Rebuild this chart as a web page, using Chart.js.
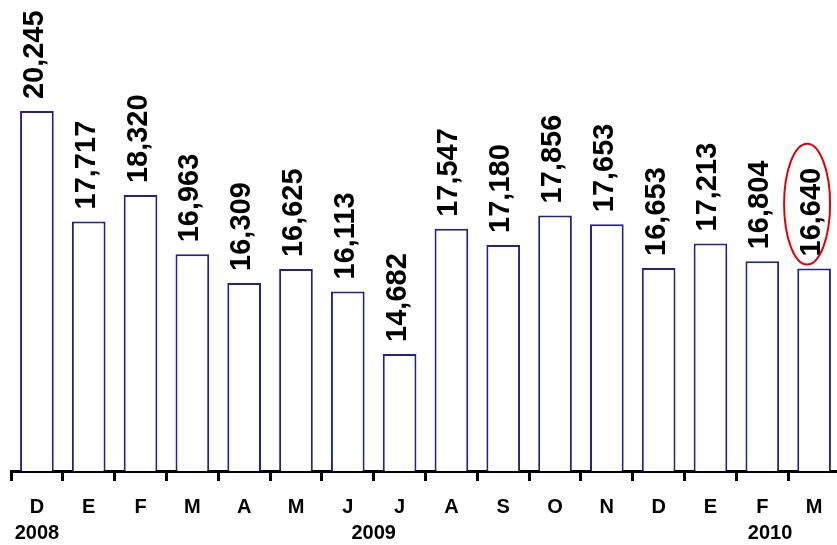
<!DOCTYPE html>
<html>
<head>
<meta charset="utf-8">
<script src="https://cdn.jsdelivr.net/npm/chart.js@4"></script>
<style>
  html, body { margin: 0; padding: 0; background: #fff; overflow: hidden; }
  #wrap { position: absolute; left: 0; top: 0; width: 842px; height: 545px; }
</style>
</head>
<body>
<div id="wrap"><canvas id="visits-chart"></canvas></div>
<script>
// monthly values, Dec 2008 .. Mar 2010
var months = ['D', 'E', 'F', 'M', 'A', 'M', 'J', 'J', 'A', 'S', 'O', 'N', 'D', 'E', 'F', 'M'];
var values = [20245, 17717, 18320, 16963, 16309, 16625, 16113, 14682, 17547, 17180, 17856, 17653, 16653, 17213, 16804, 16640];
var years = ['2008', '2009', '2010'];
var yearAt = [0, 6.5, 14.15];   // category index under which each year sits
var highlightIndex = 15;        // circled value

var navy = '#22228c';

var valueLabels = {
  id: 'valueLabels',
  afterDraw: function(chart) {
    var ctx = chart.ctx;
    var meta = chart.getDatasetMeta(0);
    ctx.save();
    ctx.font = 'bold 29px "Liberation Sans", Arial, sans-serif';
    ctx.fillStyle = '#000';
    ctx.textAlign = 'left';
    ctx.textBaseline = 'alphabetic';
    meta.data.forEach(function(bar, i) {
      var txt = values[i].toLocaleString('en-US');
      var w = ctx.measureText(txt).width;
      ctx.save();
      ctx.translate(bar.x + 6, bar.y - 12);
      ctx.rotate(-Math.PI / 2);
      ctx.fillText(txt, 0, 0);
      ctx.restore();
      if (i === highlightIndex) {
        ctx.beginPath();
        ctx.strokeStyle = '#e00000';
        ctx.lineWidth = 2;
        ctx.ellipse(bar.x - 7, bar.y - 12 - w / 2 - 8, 23, w / 2 + 16, 0, 0, Math.PI * 2);
        ctx.stroke();
      }
    });
    // year row
    var xs = chart.scales.x;
    ctx.font = 'bold 20px "Liberation Sans", Arial, sans-serif';
    ctx.textAlign = 'center';
    ctx.textBaseline = 'middle';
    years.forEach(function(y, i) {
      ctx.fillText(y, xs.getPixelForValue(yearAt[i]), 533);
    });
    ctx.restore();
  }
};

var ctx = document.getElementById('visits-chart').getContext('2d');
var chart = new Chart(ctx, {
  type: 'bar',
  data: {
    labels: months,
    datasets: [
      {
        data: values,
        backgroundColor: '#ffffff',
        borderColor: navy,
        borderWidth: 2,
        barPercentage: 0.65,
        categoryPercentage: 1
      }
    ]
  },
  options: {
    responsive: true,
    maintainAspectRatio: false,
    animation: { duration: 0 },
    layout: { padding: { left: 11, right: 2, top: 0, bottom: 0 } },
    scales: {
      x: {
        display: true,
        offset: true,
        afterFit: function(scale) { scale.height = 74; },
        border: { display: true, color: '#000', width: 3 },
        grid: {
          display: true,
          offset: true,
          drawOnChartArea: false,
          drawTicks: true,
          tickLength: 10,
          tickWidth: 3,
          color: '#000'
        },
        ticks: {
          color: '#000',
          autoSkip: false,
          maxRotation: 0,
          padding: 14,
          font: { family: '"Liberation Sans", Arial, sans-serif', size: 20, weight: 'bold' }
        }
      },
      y: {
        display: false,
        min: 12000,
        max: 22790
      }
    },
    plugins: {
      legend: { display: false },
      tooltip: { enabled: false }
    }
  },
  plugins: [valueLabels]
});
</script>
</body>
</html>
